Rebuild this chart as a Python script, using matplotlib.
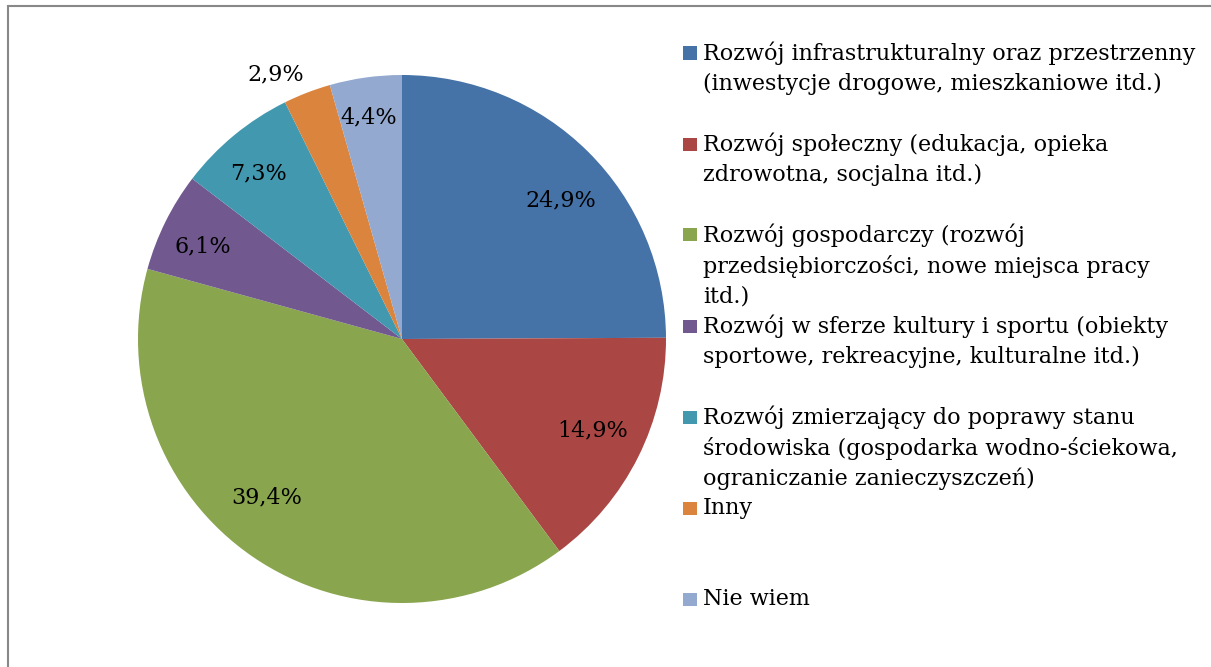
import matplotlib
matplotlib.use("Agg")
import matplotlib.pyplot as plt
import numpy as np

# Survey shares (%) by development area
categories = [
    ["Rozwój infrastrukturalny oraz przestrzenny",
     "(inwestycje drogowe, mieszkaniowe itd.)"],
    ["Rozwój społeczny (edukacja, opieka",
     "zdrowotna, socjalna itd.)"],
    ["Rozwój gospodarczy (rozwój",
     "przedsiębiorczości, nowe miejsca pracy",
     "itd.)"],
    ["Rozwój w sferze kultury i sportu (obiekty",
     "sportowe, rekreacyjne, kulturalne itd.)"],
    ["Rozwój zmierzający do poprawy stanu",
     "środowiska (gospodarka wodno-ściekowa,",
     "ograniczanie zanieczyszczeń)"],
    ["Inny"],
    ["Nie wiem"],
]
values = [24.9, 14.9, 39.4, 6.1, 7.3, 2.9, 4.4]
colors = ["#4572A7", "#AA4643", "#89A54E", "#71588F", "#4198AF", "#DB843D", "#93A9CF"]
# radial position of each percentage label (fraction of radius)
label_r = [0.80, 0.80, 0.79, 0.83, 0.83, 1.11, 0.85]
label_dang = [-4, 1, -6, 1.5, 1.5, 4.5, 0.5]

W, H = 1211, 667
fig = plt.figure(figsize=(W / 100, H / 100), dpi=100)
fig.patch.set_facecolor("white")
font = "DejaVu Serif"
fs = 16

# outer frame (only left/top edges fall inside the canvas)
frame = plt.Rectangle((8 / W, -0.1), 1.2, (H - 6) / H + 0.1, transform=fig.transFigure,
                      fill=False, edgecolor="#888888", linewidth=1.5)
fig.patches.append(frame)

cx, cy, R = 402, 339, 264
ax = fig.add_axes([(cx - R) / W, (H - cy - R) / H, 2 * R / W, 2 * R / H])

wedges, _ = ax.pie(values, colors=colors, startangle=90, counterclock=False,
                   radius=1.0, center=(0, 0), wedgeprops=dict(linewidth=0))
ax.set_xlim(-1, 1)
ax.set_ylim(-1, 1)
ax.set_aspect("equal")
ax.axis("off")

for w, v, r, da in zip(wedges, values, label_r, label_dang):
    mid = np.deg2rad((w.theta1 + w.theta2) / 2 + da)
    ax.text(r * np.cos(mid), r * np.sin(mid), f"{v:.1f}%".replace(".", ","),
            ha="center", va="center", fontsize=fs, family=font, color="black",
            clip_on=False)

# legend drawn entry by entry
y0, step, line_h = 53, 91, 31
for i, (lines, c) in enumerate(zip(categories, colors)):
    yc = y0 + i * step
    fig.patches.append(plt.Rectangle((683 / W, 1 - (yc + 6.5) / H), 14 / W, 13 / H,
                                     transform=fig.transFigure, facecolor=c,
                                     edgecolor="none"))
    for k, s in enumerate(lines):
        fig.text(703 / W, 1 - (yc + k * line_h) / H, s, ha="left", va="center",
                 fontsize=fs, family=font, color="black")

fig.savefig("out.png", dpi=100, facecolor="white")
